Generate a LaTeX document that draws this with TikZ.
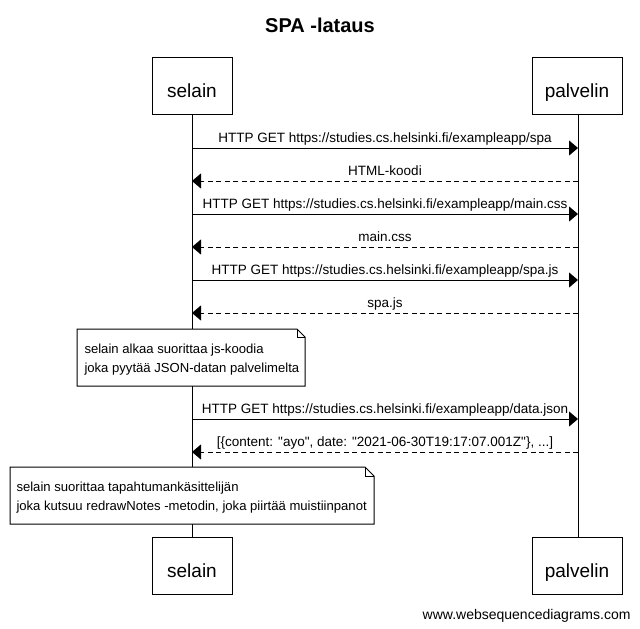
\documentclass[tikz,border=0pt]{standalone}
\usepackage{fontspec}
\setmainfont{Liberation Sans}
\usetikzlibrary{arrows.meta}

\begin{document}
\begin{tikzpicture}[x=1pt, y=-1pt, line width=1pt,
		actor/.style={draw, fill=white, inner sep=0pt, minimum height=57pt, text height=23pt, text depth=0pt, font=\fontsize{19}{22}\selectfont},
		msg/.style={-{Triangle[length=9pt, width=15pt]}},
		reply/.style={msg, dash pattern=on 5pt off 3.5pt},
		lbl/.style={anchor=base, yshift=5.5pt, inner sep=0pt, font=\fontsize{13.5}{16}\selectfont},
		notebox/.style={draw, fill=white},
		notetext/.style={anchor=north west, inner sep=0pt, align=left, font=\fontsize{13.1}{19}\selectfont}]
		%%%%% START %%%%%
		
		\useasboundingbox (0, 0) rectangle (640, 629);
		
		\node[anchor=base, font=\bfseries\fontsize{20}{24}\selectfont] (title) at (320, 32) {SPA -lataus};
		
		\node[actor, minimum width=80pt] (selainTop) at (192, 85.5) {selain};
		\node[actor, minimum width=90pt] (palvelinTop) at (577, 85.5) {palvelin};
		\node[actor, minimum width=80pt] (selainBot) at (192, 565.5) {selain};
		\node[actor, minimum width=90pt] (palvelinBot) at (577, 565.5) {palvelin};
		
		\draw (selainTop) -- (selainBot);
		\draw (palvelinTop.south -| 578, 0) -- (palvelinBot.north -| 578, 0);
		
		\foreach \i/\y in {1/148, 2/181, 3/214, 4/247, 5/280, 6/313, 7/419, 8/452} {
			\coordinate (s\i) at (192, \y);
			\coordinate (p\i) at (578, \y);
		}
		
		\draw[msg] (s1) -- node[lbl] {HTTP GET https://studies.cs.helsinki.fi/exampleapp/spa} (p1);
		\draw[reply] (p2) -- node[lbl] {HTML-koodi} (s2);
		\draw[msg] (s3) -- node[lbl] {HTTP GET https://studies.cs.helsinki.fi/exampleapp/main.css} (p3);
		\draw[reply] (p4) -- node[lbl] {main.css} (s4);
		\draw[msg] (s5) -- node[lbl] {HTTP GET https://studies.cs.helsinki.fi/exampleapp/spa.js} (p5);
		\draw[reply] (p6) -- node[lbl] {spa.js} (s6);
		
		% note 1
		\draw[notebox] (77, 329) -- (297, 329) -- (305, 337) -- (305, 386) -- (77, 386) -- cycle;
		\draw (297, 329) -- (297, 337) -- (305, 337);
		\node[notetext] (note1) at (84, 343.5) {selain alkaa suorittaa js-koodia\\joka pyytää JSON-datan palvelimelta};
		
		\draw[msg] (s7) -- node[lbl] {HTTP GET https://studies.cs.helsinki.fi/exampleapp/data.json} (p7);
		\draw[reply] (p8) -- node[lbl] {[\{content: \textquotedbl ayo\textquotedbl, date: \textquotedbl 2021-06-30T19:17:07.001Z\textquotedbl\}, ...]} (s8);
		
		% note 2
		\draw[notebox] (10, 467) -- (365, 467) -- (374, 476) -- (374, 524) -- (10, 524) -- cycle;
		\draw (365, 467) -- (365, 476) -- (374, 476);
		\node[notetext] (note2) at (16, 481.5) {selain suorittaa tapahtumankäsittelijän\\joka kutsuu redrawNotes -metodin, joka piirtää muistiinpanot};
		
		\node[anchor=base east, inner sep=0pt, font=\fontsize{14}{16}\selectfont] (credit) at (631, 619) {www.websequencediagrams.com};
		
		%%%%% END %%%%%
\end{tikzpicture}
\end{document}
